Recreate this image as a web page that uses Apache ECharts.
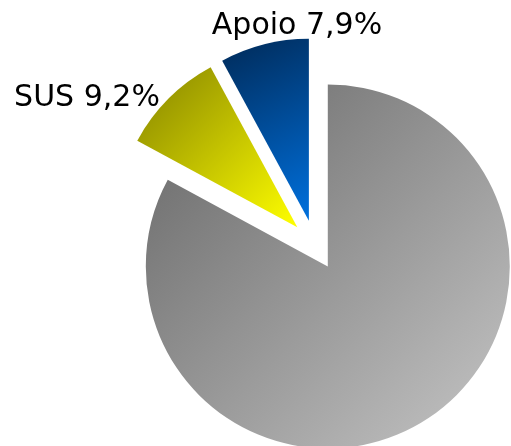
<!DOCTYPE html>
<html>
<head>
<meta charset="utf-8">
<script src="https://cdn.jsdelivr.net/npm/echarts@6/dist/echarts.min.js"></script>
<style>
    html, body { margin: 0; padding: 0; background: #fff; }
    #main { width: 511px; height: 446px; }
</style>
</head>
<body>
<div id="main"></div>
<script>
    var names = ['Ambulatorial\n&\nHospitalar*', 'SUS', 'Apoio'];
    var values = [82.9, 9.2, 7.9];
    var valueLabels = ['82,9%', '9,2%', '7,9%'];
    // dark corner -> light corner of each slice
    var colorsFrom = ['#666666', '#858300', '#002a58'];
    var colorsTo = ['#c6c6c6', '#ffff00', '#0070dd'];

    var myChart = echarts.init(document.getElementById('main'));

    var data = [];
    for (var i = 0; i < names.length; i++) {
        data.push({
            name: names[i],
            value: values[i],
            selected: true,
            itemStyle: {
                color: {
                    type: 'linear', x: 0, y: 0, x2: 1, y2: 1,
                    colorStops: [
                        {offset: 0, color: colorsFrom[i]},
                        {offset: 1, color: colorsTo[i]}
                    ]
                }
            }
        });
    }

    // slice texts sit where the original slide put them
    function sliceText(i, x, y, sep) {
        return {
            type: 'text',
            x: x,
            y: y,
            style: {
                text: names[i] + sep + valueLabels[i],
                fill: '#000',
                fontFamily: 'DejaVu Sans',
                fontSize: 30,
                lineHeight: 48,
                align: 'center',
                verticalAlign: 'middle'
            }
        };
    }

    var option = {
        animation: false,
        graphic: [
            sliceText(0, 353, 353, '\n'),
            sliceText(1, 87, 98, ' '),
            sliceText(2, 297, 26, ' ')
        ],
        series: [
            {
                type: 'pie',
                center: [315, 245],
                radius: 182,
                startAngle: 90,
                clockwise: true,
                selectedMode: 'multiple',
                selectedOffset: 25,
                emphasis: {disabled: true},
                label: {show: false},
                labelLine: {show: false},
                data: data
            }
        ]
    };
    myChart.setOption(option);
</script>
</body>
</html>
